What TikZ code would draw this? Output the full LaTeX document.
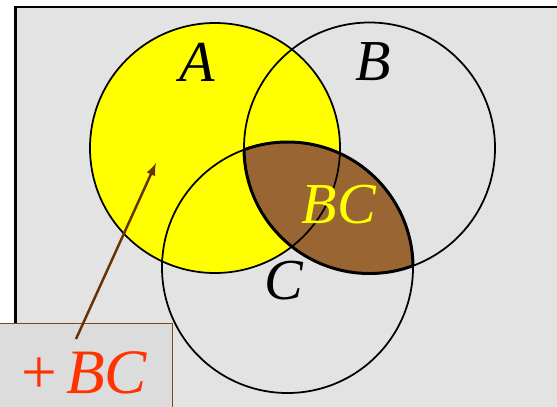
\documentclass[tikz,border=0pt]{standalone}
\usepackage{fontspec}
\setmainfont{Liberation Serif}
\usetikzlibrary{arrows}
\definecolor{panelgray}{HTML}{E3E3E3}
\definecolor{boxgray}{HTML}{DCDCDC}
\definecolor{setyellow}{HTML}{FFFF00}
\definecolor{lensbrown}{HTML}{996633}
\definecolor{arrowbrown}{HTML}{663300}
\definecolor{boxbrown}{HTML}{7A4A1A}
\definecolor{labelred}{HTML}{FF3300}
\tikzset{
  setline/.style={draw=black, line width=1pt},
  setlabel/.style={inner sep=0pt, font=\fontsize{33}{33}\selectfont\itshape},
}
\begin{document}
\begin{tikzpicture}[>=latex, x=0.02cm, y=-0.02cm]
        \useasboundingbox (0, 0) rectangle (557, 406);
        \clip (0, 0) rectangle (557, 406);
        
        \coordinate (a) at (215, 148);
        \coordinate (b) at (369.5, 148);
        \coordinate (c) at (287.5, 267.5);
        
        % background panel
        \draw[fill=panelgray, line width=1.2pt] (15.5, 7) rectangle (620, 460);
        
        % set A shaded, then BC lens
        \fill[setyellow] (a) circle (125);
        \begin{scope}
            \clip (b) circle (125.5);
            \fill[lensbrown] (c) circle (125.5);
        \end{scope}
        
        \draw[setline] (a) circle (125);
        \draw[setline] (b) circle (125.5);
        \draw[setline] (c) circle (125.5);
        
        % lens border
        \begin{scope}
            \clip (b) circle (125.5);
            \draw[line width=1.7pt] (c) circle (125.5);
        \end{scope}
        \begin{scope}
            \clip (c) circle (125.5);
            \draw[line width=1.7pt] (b) circle (125.5);
        \end{scope}
        
        \node[setlabel] (la) at (197, 62) {A};
        \node[setlabel] (lb) at (373, 62) {B};
        \node[setlabel] (lc) at (284, 281) {C};
        \node[setlabel, text=setyellow] (lbc) at (339, 205) {BC};
        
        % note box
        \node[draw=boxbrown, fill=boxgray, line width=0.8pt, minimum width=200*0.02cm, minimum height=110*0.02cm, anchor=north west] (note) at (-28, 323) {};
        \node[inner sep=0pt, text=labelred, font=\fontsize{36}{36}\selectfont\itshape] (plus) at (82, 373) {+\hspace{0.1em}BC};
        
        \coordinate (tail) at (76, 339);
        \coordinate (tip) at (156, 163);
        \draw[->, arrowbrown, line width=1.4pt] (tail) -- (tip);
    \end{tikzpicture}
\end{document}
